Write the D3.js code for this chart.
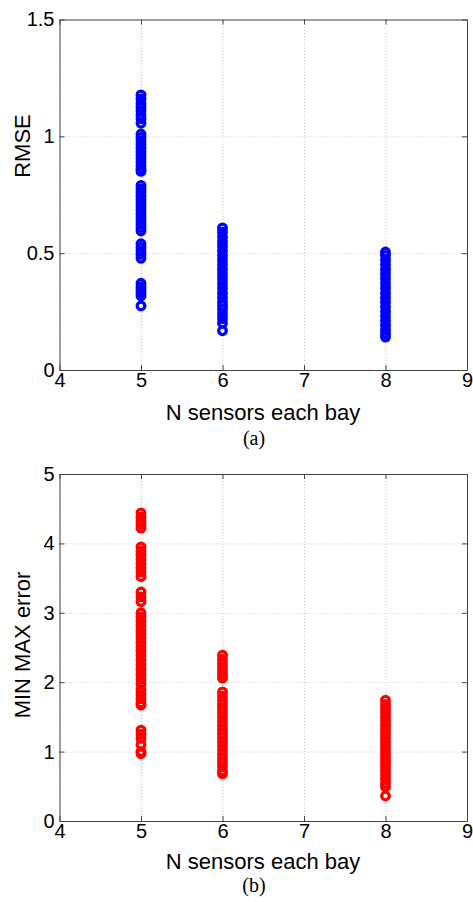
<!DOCTYPE html>
<html lang="en">
<head>
    <meta charset="UTF-8">
    <title>RMSE and MIN MAX error</title>
    <script src="https://cdn.jsdelivr.net/npm/d3@7"></script>
    <style>
        body { margin: 0; background: #fff; }
        .tick text { font-family: "Liberation Sans", Arial, sans-serif; font-size: 20px; fill: #000; }
        .grid line { stroke: #c8c8c8; stroke-dasharray: 1,2; }
        .grid path { display: none; }
        .frame path, .frame line { stroke: #444; }
        .lab { font-family: "Liberation Sans", Arial, sans-serif; font-size: 22px; fill: #000; }
        .cap { font-family: "Liberation Serif", "Times New Roman", serif; font-size: 20px; fill: #000; }
    </style>
</head>
<body>
<div id="chart"></div>
<script type="text/javascript">
    // sensors per bay
    var xTicks = [4, 5, 6, 7, 8, 9];
    var yTicksA = [0, 0.5, 1, 1.5];
    var yTicksB = [0, 1, 2, 3, 4, 5];

    // RMSE, panel (a)
    var rmse5 = [1.177, 1.16, 1.14, 1.125, 1.11, 1.09, 1.075, 1.056,
        1.01, 0.995, 0.98, 0.965, 0.95, 0.935, 0.92, 0.905, 0.89, 0.875, 0.86, 0.85,
        0.79, 0.775, 0.76, 0.745, 0.73, 0.715, 0.70, 0.685, 0.67, 0.655, 0.64, 0.625, 0.61, 0.595,
        0.54, 0.525, 0.51, 0.495, 0.478,
        0.371, 0.355, 0.342, 0.33, 0.317, 0.274];
    var rmse6 = [0.608, 0.59, 0.57, 0.55, 0.53, 0.51, 0.49, 0.47, 0.45, 0.43, 0.41, 0.39,
        0.37, 0.35, 0.33, 0.31, 0.29, 0.275, 0.26, 0.24, 0.22, 0.2, 0.168];
    var rmse8 = [0.505, 0.49, 0.47, 0.45, 0.43, 0.41, 0.39, 0.37, 0.35, 0.33, 0.31, 0.29,
        0.27, 0.25, 0.23, 0.21, 0.19, 0.17, 0.155, 0.141];

    // MIN MAX error, panel (b)
    var mm5 = [4.44, 4.38, 4.32, 4.27, 4.22,
        3.95, 3.89, 3.83, 3.77, 3.71, 3.65, 3.59, 3.52,
        3.30, 3.23, 3.16,
        3.00, 2.94, 2.88, 2.82, 2.75, 2.69, 2.63, 2.57, 2.51, 2.45, 2.39, 2.32, 2.25, 2.18,
        2.11, 2.04, 1.97, 1.89, 1.82, 1.76, 1.70, 1.67,
        1.31, 1.25, 1.19, 1.10, 1.0, 0.97];
    var mm6 = [2.39, 2.33, 2.27, 2.21, 2.15, 2.10, 2.06,
        1.86, 1.80, 1.74, 1.68, 1.62, 1.56, 1.50, 1.44, 1.38, 1.32, 1.26, 1.20, 1.14,
        1.08, 1.02, 0.96, 0.90, 0.84, 0.78, 0.72, 0.68];
    var mm8 = [1.74, 1.68, 1.62, 1.56, 1.50, 1.44, 1.38, 1.32, 1.26, 1.20, 1.14, 1.08,
        1.02, 0.96, 0.90, 0.84, 0.78, 0.72, 0.66, 0.60, 0.54, 0.49, 0.36];

    var svgw = 473, svgh = 902;
    var svg = d3.select("#chart")
        .append('svg')
        .attr('width', svgw)
        .attr('height', svgh);

    function pts(n, vals) {
        return vals.map(function (v) { return [n, v]; });
    }

    function panel(p) {
        var x = d3.scaleLinear().domain([4, 9]).range([59.5, 467]);
        var y = d3.scaleLinear().domain(p.ydom).range([p.bottom, p.top]);
        var w = 467 - 59.5, h = p.bottom - p.top;
        var g = svg.append('g');

        // grid
        g.append('g').attr('class', 'grid')
            .attr('transform', 'translate(0,' + p.bottom + ')')
            .call(d3.axisBottom(x).tickValues(xTicks).tickSize(-h).tickFormat(''));
        g.append('g').attr('class', 'grid')
            .attr('transform', 'translate(59.5,0)')
            .call(d3.axisLeft(y).tickValues(p.yticks).tickSize(-w).tickFormat(''));

        // markers
        var data = pts(5, p.s5).concat(pts(6, p.s6), pts(8, p.s8));
        g.selectAll('circle')
            .data(data)
            .enter()
            .append('circle')
            .attr('cx', function (d) { return x(d[0]); })
            .attr('cy', function (d) { return y(d[1]); })
            .attr('r', 3.8)
            .attr('fill', 'none')
            .attr('stroke', p.color)
            .attr('stroke-width', 3.3);

        // box + inward ticks
        g.append('g').attr('class', 'frame')
            .attr('transform', 'translate(0,' + p.bottom + ')')
            .call(d3.axisBottom(x).tickValues(xTicks).tickSize(-5).tickPadding(3)
                .tickSizeOuter(0).tickFormat(function (d) { return String(d); }));
        g.append('g').attr('class', 'frame')
            .attr('transform', 'translate(0,' + p.top + ')')
            .call(d3.axisTop(x).tickValues(xTicks).tickSize(-5).tickSizeOuter(0).tickFormat(''));
        g.append('g').attr('class', 'frame')
            .attr('transform', 'translate(59.5,0)')
            .call(d3.axisLeft(y).tickValues(p.yticks).tickSize(-5).tickPadding(5)
                .tickSizeOuter(0).tickFormat(function (d) { return String(d); }));
        g.append('g').attr('class', 'frame')
            .attr('transform', 'translate(467,0)')
            .call(d3.axisRight(y).tickValues(p.yticks).tickSize(-5).tickSizeOuter(0).tickFormat(''));

        g.append('text').attr('class', 'lab')
            .attr('x', 263).attr('y', p.bottom + p.labDy)
            .attr('text-anchor', 'middle')
            .text('N sensors each bay');
        g.append('text').attr('class', 'lab')
            .attr('transform', 'translate(30,' + p.ylabY + ') rotate(-90)')
            .attr('text-anchor', 'middle')
            .text(p.ylabel);
        g.append('text').attr('class', 'cap')
            .attr('x', 254).attr('y', p.bottom + p.capDy)
            .attr('text-anchor', 'middle')
            .text(p.caption);
    }

    panel({ top: 19.5, bottom: 370, ydom: [0, 1.5], yticks: yTicksA, color: '#0000ff',
        s5: rmse5, s6: rmse6, s8: rmse8, ylabel: 'RMSE', ylabY: 146, caption: '(a)',
        labDy: 50, capDy: 75 });
    panel({ top: 474, bottom: 821, ydom: [0, 5], yticks: yTicksB, color: '#ff0000',
        s5: mm5, s6: mm6, s8: mm8, ylabel: 'MIN MAX error', ylabY: 645, caption: '(b)',
        labDy: 48, capDy: 71 });
</script>
</body>
</html>
